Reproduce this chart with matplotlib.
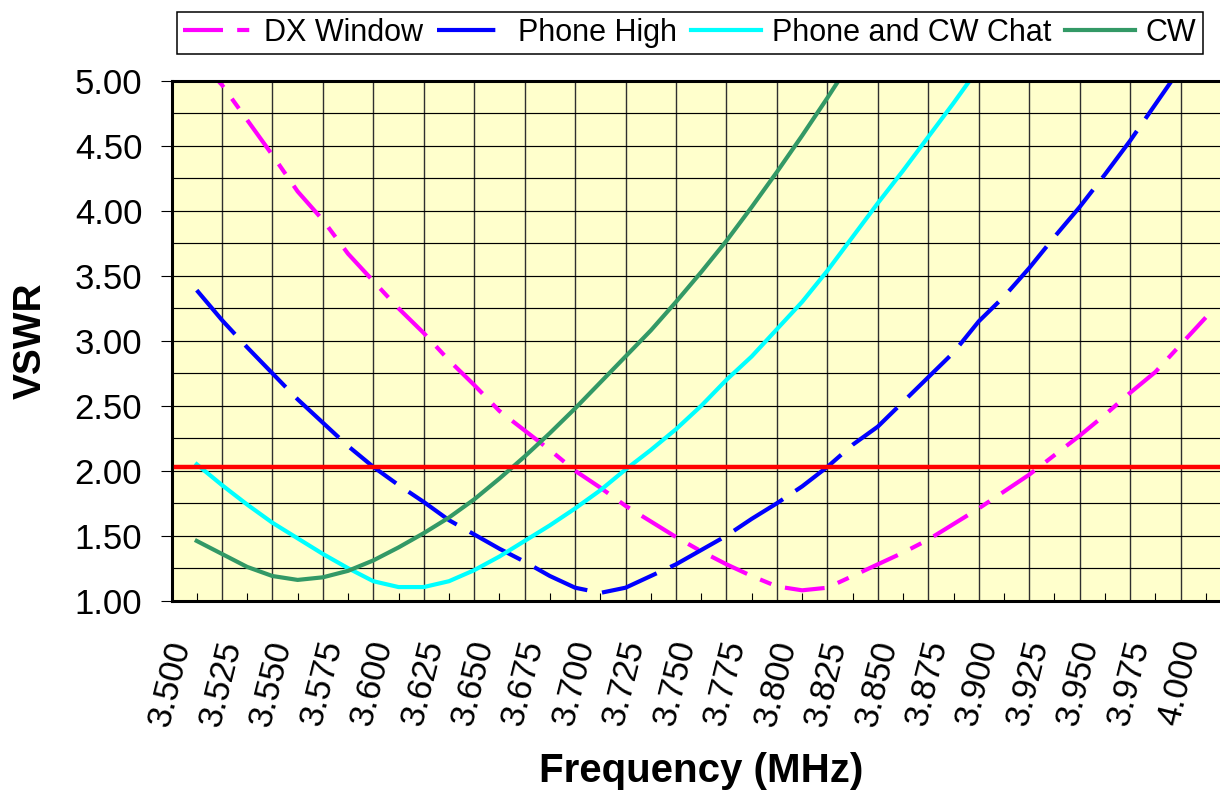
"""VSWR sweep across the 80 m band."""

import matplotlib
matplotlib.use('Agg')
import matplotlib.pyplot as plt
from matplotlib.ticker import MultipleLocator, FormatStrFormatter, FixedLocator


plt.rcParams['font.family'] = ['Liberation Sans', 'DejaVu Sans']

# Frequency grid of the readings (MHz)
freq = [3.5000, 3.5125, 3.5250, 3.5375, 3.5500, 3.5625, 3.5750, 3.5875,
        3.6000, 3.6125, 3.6250, 3.6375, 3.6500, 3.6625, 3.6750, 3.6875,
        3.7000, 3.7125, 3.7250, 3.7375, 3.7500, 3.7625, 3.7750, 3.7875,
        3.8000, 3.8125, 3.8250, 3.8375, 3.8500, 3.8625, 3.8750, 3.8875,
        3.9000, 3.9125, 3.9250, 3.9375, 3.9500, 3.9625, 3.9750, 3.9875,
        4.0000]

# VSWR for each antenna setting
dx_window = [5.18, 4.97, 4.70, 4.43, 4.15, 3.93, 3.67, 3.46,
             3.25, 3.06, 2.85, 2.66, 2.46, 2.31, 2.16, 2.00,
             1.87, 1.73, 1.61, 1.49, 1.38, 1.28, 1.19, 1.11,
             1.08, 1.10, 1.19, 1.28, 1.37, 1.47, 1.59, 1.71,
             1.84, 1.97, 2.12, 2.27, 2.43, 2.60, 2.76, 2.97,
             3.18]
phone_high = [3.39, 3.16, 2.95, 2.75, 2.55, 2.37, 2.19, 2.03,
              1.89, 1.76, 1.62, 1.51, 1.40, 1.30, 1.19, 1.10,
              1.06, 1.10, 1.19, 1.28, 1.39, 1.50, 1.63, 1.75,
              1.88, 2.03, 2.20, 2.34, 2.53, 2.72, 2.91, 3.15,
              3.34, 3.56, 3.80, 4.03, 4.28, 4.54, 4.82, 5.10]
phone_cw_chat = [2.05, 1.89, 1.74, 1.60, 1.48, 1.36, 1.25, 1.15,
                 1.105, 1.105, 1.15, 1.235, 1.34, 1.46, 1.58, 1.71,
                 1.85, 2.01, 2.16, 2.32, 2.50, 2.70, 2.88, 3.09,
                 3.30, 3.54, 3.80, 4.06, 4.31, 4.57, 4.83, 5.10]
cw = [1.46, 1.36, 1.26, 1.19, 1.16, 1.18, 1.23, 1.31,
      1.41, 1.52, 1.64, 1.78, 1.94, 2.11, 2.29, 2.48,
      2.68, 2.88, 3.08, 3.30, 3.53, 3.77, 4.03, 4.30,
      4.58, 4.87, 5.17]

SWR_LIMIT = 2.03

freq_ticks = [3.500, 3.525, 3.550, 3.575, 3.600, 3.625, 3.650, 3.675,
              3.700, 3.725, 3.750, 3.775, 3.800, 3.825, 3.850, 3.875,
              3.900, 3.925, 3.950, 3.975, 4.000]

W, H = 1220, 793
fig = plt.figure(figsize=(W / 100, H / 100), dpi=100)
# plot area runs past the right edge of the picture
ax = fig.add_axes([171.5 / W, 1 - 600.7 / H, 1059.5 / W, 519.7 / H])
ax.set_facecolor('#FFFFCC')

ax.plot(freq[:len(dx_window)], dx_window, color='#FF00FF', lw=3,
        ls=(0, (9.6, 3.4, 2.9, 3.4)), label='DX Window')
ax.plot(freq[:len(phone_high)], phone_high, color='#0000FF', lw=3,
        ls=(0, (14, 3.6)), label='Phone High')
ax.plot(freq[:len(phone_cw_chat)], phone_cw_chat, color='#00FFFF', lw=3,
        label='Phone and CW Chat')
ax.plot(freq[:len(cw)], cw, color='#339966', lw=3, label='CW')
ax.axhline(SWR_LIMIT, xmin=0.004, color='#FF0000', lw=3.2, zorder=5)

ax.set_xlim(3.4875, 4.0125)
ax.set_ylim(1, 5)

ax.xaxis.set_major_locator(FixedLocator(freq_ticks))
ax.xaxis.set_major_formatter(FormatStrFormatter('%.3f'))
ax.xaxis.set_minor_locator(MultipleLocator(0.025, offset=0.0125))
ax.yaxis.set_major_locator(MultipleLocator(0.5))
ax.yaxis.set_minor_locator(MultipleLocator(0.25))
ax.yaxis.set_major_formatter(FormatStrFormatter('%.2f'))

ax.tick_params(axis='x', which='major', direction='in', length=6, width=0.8,
               labelsize=25, pad=26)
ax.tick_params(axis='x', which='minor', length=0)
ax.tick_params(axis='y', which='major', direction='out', length=8, width=0.8,
               labelsize=25, pad=13)
ax.tick_params(axis='y', which='minor', length=0)
plt.setp(ax.get_xticklabels(), rotation=76, ha='right')

ax.xaxis.grid(True, which='minor', color='#303030', lw=1.0)
ax.yaxis.grid(True, which='both', color='black', lw=0.85)
ax.set_axisbelow(True)

for side in ('left', 'top', 'bottom'):
    ax.spines[side].set_linewidth(2.2)
ax.spines['right'].set_visible(False)

ax.set_xlabel('Frequency (MHz)', fontsize=29, fontweight='bold')
ax.xaxis.set_label_coords(0.5, -0.292)
ax.set_ylabel('VSWR', fontsize=28, fontweight='bold')
ax.yaxis.set_label_coords(-0.1156, 0.5)

leg = fig.legend(loc='center', bbox_to_anchor=(690 / W, 1 - 33 / H), ncol=4,
                 fontsize=22, handlelength=2.3, handletextpad=0.35,
                 columnspacing=0.45, borderpad=0.2, fancybox=False,
                 edgecolor='black', framealpha=1)
leg.get_frame().set_linewidth(1.1)

fig.savefig('out.png', dpi=100)
